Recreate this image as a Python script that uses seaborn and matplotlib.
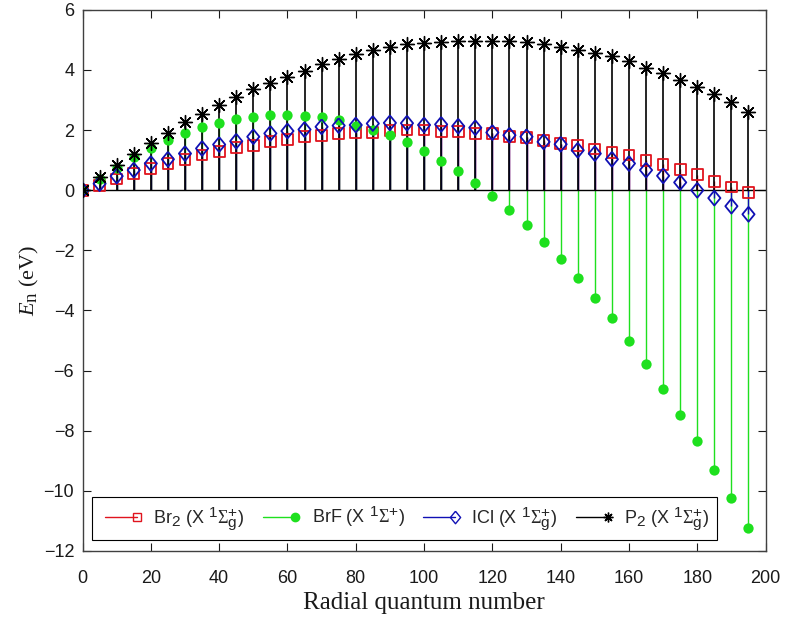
import numpy as np
import matplotlib
matplotlib.use("Agg")
import matplotlib.pyplot as plt
import matplotlib._mathtext as mathtext_internal
from matplotlib.lines import Line2D
from matplotlib.legend_handler import HandlerLine2D
import pandas as pd
import seaborn as sns

# Radial quantum number (every 5th level)
n_levels = [0, 5, 10, 15, 20, 25, 30, 35, 40, 45, 50, 55, 60, 65, 70, 75, 80, 85, 90, 95,
            100, 105, 110, 115, 120, 125, 130, 135, 140, 145, 150, 155, 160, 165, 170, 175,
            180, 185, 190, 195]

# Energies in eV
br2 = [0, 0.17, 0.37, 0.56, 0.72, 0.89, 1.03, 1.17, 1.30, 1.41, 1.50, 1.63, 1.69, 1.78,
       1.83, 1.88, 1.92, 1.92, 1.98, 2.00, 2.00, 1.95, 1.95, 1.90, 1.90, 1.80, 1.76, 1.66,
       1.55, 1.48, 1.37, 1.26, 1.17, 1.00, 0.86, 0.69, 0.52, 0.30, 0.11, -0.07]
brf = [0, 0.38, 0.75, 1.12, 1.42, 1.68, 1.92, 2.09, 2.24, 2.37, 2.44, 2.49, 2.50, 2.47,
       2.42, 2.35, 2.15, 2.02, 1.83, 1.59, 1.31, 0.98, 0.63, 0.24, -0.20, -0.67, -1.17,
       -1.72, -2.30, -2.92, -3.58, -4.26, -5.01, -5.79, -6.60, -7.46, -8.34, -9.29,
       -10.24, -11.25]
icl = [0, 0.22, 0.47, 0.67, 0.89, 1.03, 1.22, 1.39, 1.52, 1.63, 1.78, 1.89, 1.97, 2.02,
       2.11, 2.15, 2.17, 2.22, 2.24, 2.23, 2.17, 2.19, 2.13, 2.08, 1.92, 1.83, 1.78, 1.61,
       1.53, 1.33, 1.22, 1.03, 0.89, 0.67, 0.48, 0.26, 0.0, -0.26, -0.53, -0.80]
p2 = [0, 0.44, 0.83, 1.20, 1.56, 1.89, 2.26, 2.52, 2.83, 3.11, 3.36, 3.58, 3.78, 3.98,
      4.20, 4.36, 4.53, 4.67, 4.78, 4.86, 4.91, 4.94, 4.98, 4.98, 4.98, 4.97, 4.92, 4.88,
      4.76, 4.67, 4.58, 4.47, 4.30, 4.08, 3.89, 3.67, 3.44, 3.19, 2.94, 2.61]

labels = [r'Br$_\mathsf{2}$ (X $^\mathsf{1}\Sigma_\mathsf{g}^\mathsf{+}$)',
          r'BrF (X $^\mathsf{1}\Sigma^\mathsf{+}$)',
          r'ICl (X $^\mathsf{1}\Sigma_\mathsf{g}^\mathsf{+}$)',
          r'P$_\mathsf{2}$ (X $^\mathsf{1}\Sigma_\mathsf{g}^\mathsf{+}$)']

sns.set_theme(style="ticks")
plt.rcParams['font.family'] = ['Liberation Sans', 'DejaVu Sans']
plt.rcParams['mathtext.fontset'] = 'custom'
plt.rcParams['mathtext.rm'] = 'Liberation Serif'
plt.rcParams['mathtext.it'] = 'Liberation Serif:italic'
plt.rcParams['mathtext.sf'] = 'Liberation Sans'
# MATLAB-style tex keeps sub/superscripts fairly large
mathtext_internal.SHRINK_FACTOR = 0.85

asterisk = (8, 2, 0)
tall_diamond = [(0, 1), (0.82, 0), (0, -1), (-0.82, 0), (0, 1)]
styles = [
    # series, colour, marker, filled, size, stem width
    (br2, '#e0141e', 's', False, 60, 1.0),
    (brf, '#1ee01e', 'o', True, 55, 1.0),
    (icl, '#1010b4', tall_diamond, False, 115, 1.0),
    (p2, 'black', asterisk, False, 100, 1.2),
]

fig = plt.figure(figsize=(7.86, 6.17), dpi=100)
ax = fig.add_axes([0.105, 0.107, 0.869, 0.877])

for vals, col, mk, filled, sz, lw in styles:
    df = pd.DataFrame({'n': n_levels, 'E': vals})
    ax.vlines(df['n'], 0, df['E'], color=col, lw=lw, zorder=2)

for vals, col, mk, filled, sz, lw in styles:
    df = pd.DataFrame({'n': n_levels, 'E': vals})
    if mk is asterisk:
        sns.scatterplot(data=df, x='n', y='E', marker=mk, s=sz, color=col,
                        edgecolor=col, linewidth=1.0, ax=ax, zorder=4)
    elif filled:
        sns.scatterplot(data=df, x='n', y='E', marker=mk, s=sz, color=col,
                        edgecolor=col, linewidth=0, ax=ax, zorder=3)
    else:
        sns.scatterplot(data=df, x='n', y='E', marker=mk, s=sz, facecolor='none',
                        edgecolor=col, linewidth=1.3, ax=ax, zorder=3)

ax.axhline(0, color='black', lw=1.0, zorder=2)

ax.set_xlim(0, 200)
ax.set_ylim(-12, 6)
ax.set_xticks(np.arange(0, 201, 20))
ax.set_yticks(np.arange(-12, 7, 2))
ax.tick_params(direction='in', length=6, width=0.8, top=True, right=True,
               labelsize=13, colors='#1a1a1a')
ax.tick_params(axis='x', pad=14)
ax.tick_params(axis='y', pad=6)
for sp in ax.spines.values():
    sp.set_visible(True)
    sp.set_color('#404040')
    sp.set_linewidth(1.0)

ax.set_xlabel('Radial quantum number', fontfamily='Liberation Serif', fontsize=18,
              color='#1a1a1a', labelpad=3)
ax.set_ylabel(r'$E_\mathrm{n}$ (eV)', fontfamily='Liberation Serif', fontsize=16,
              color='#1a1a1a', labelpad=2)


class StemHandler(HandlerLine2D):
    def create_artists(self, *args, **kwargs):
        arts = super().create_artists(*args, **kwargs)
        for a in arts:
            a.set_markevery([len(a.get_xdata()) - 1])
        return arts


handles = []
for vals, col, mk, filled, sz, lw in styles:
    fc = col if filled else 'none'
    ms = 6
    if mk is asterisk:
        ms = 7
    elif mk is tall_diamond:
        ms = 9
    handles.append(Line2D([0], [0], color=col, lw=1.0, marker=mk, markersize=ms,
                          markerfacecolor=fc, markeredgecolor=col,
                          markeredgewidth=1.0))

leg = ax.legend(handles, labels, loc='lower left', bbox_to_anchor=(0.014, 0.02),
                borderaxespad=0, ncol=4, fontsize=13, frameon=True, fancybox=False,
                edgecolor='black', framealpha=1, handlelength=2.4, handletextpad=0.6,
                columnspacing=0.7, borderpad=0.4, numpoints=2,
                handler_map={Line2D: StemHandler(numpoints=2)})
leg.get_frame().set_linewidth(0.8)

fig.savefig('out.png', dpi=100)
